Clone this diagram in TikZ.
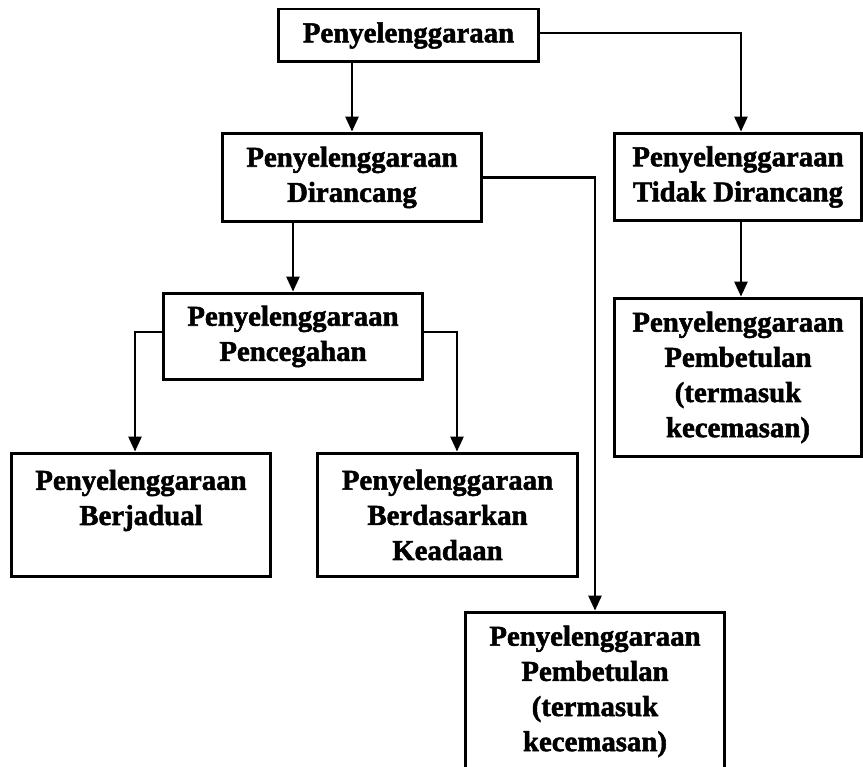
\documentclass[tikz,border=0pt]{standalone}
\usepackage{fontspec}
\setmainfont{Liberation Serif}[BoldFeatures={FakeBold=1.8}]
\usepackage{tikz}
\usetikzlibrary{positioning,calc,arrows.meta}

\begin{document}
\begin{tikzpicture}[x=0.02cm, y=-0.02cm,
  blok/.style={draw=black, line width=1.7pt, rectangle, align=center, inner sep=2pt,
    font=\fontsize{16.4}{20}\selectfont\bfseries, minimum width=#1},
  blok/.default={5.2cm},
  panah/.style={draw=black, line width=1.2pt, -{Triangle[length=8.5pt,width=7.5pt]}},
]
\useasboundingbox (0,0) rectangle (863,767);

\node[blok, minimum height=1.06cm] (utama) at (408.5,35.5) {Penyelenggaraan};
\node[blok, minimum height=1.78cm] (dirancang) at (352,177.5) {Penyelenggaraan\\Dirancang};
\node[blok=4.96cm, minimum height=1.76cm] (tidak) at (738,177) {Penyelenggaraan\\Tidak Dirancang};
\node[blok=4.96cm, minimum height=3.18cm] (betul1) at (738,377.5) {Penyelenggaraan\\Pembetulan\\(termasuk\\kecemasan)};
\node[blok, minimum height=1.74cm] (cegah) at (293,336.5) {Penyelenggaraan\\Pencegahan};
\node[blok, minimum height=2.48cm] (jadual) at (141,515) {Penyelenggaraan\\Berjadual\\\mbox{}};
\node[blok, minimum height=2.48cm] (keadaan) at (447.5,515) {Penyelenggaraan\\Berdasarkan\\Keadaan};
\node[blok, minimum height=3.18cm] (betul2) at (595,691.5) {Penyelenggaraan\\Pembetulan\\(termasuk\\kecemasan)};

\draw[panah] (dirancang.north |- utama.south) -- (dirancang.north);
\draw[panah] ([yshift=0.05cm]utama.east) -| ([xshift=0.06cm]tidak.north);
\draw[panah] ([xshift=0.06cm]tidak.south) -- ([xshift=0.06cm]betul1.north);
\draw[panah] (cegah.north |- dirancang.south) -- (cegah.north);
\draw[panah] (dirancang.east) -| (betul2.north);
\draw[panah] ([yshift=0.09cm]cegah.west) -| ([xshift=-0.12cm]jadual.north);
\draw[panah] ([yshift=0.09cm]cegah.east) -| ([xshift=0.19cm]keadaan.north);
\end{tikzpicture}
\end{document}
